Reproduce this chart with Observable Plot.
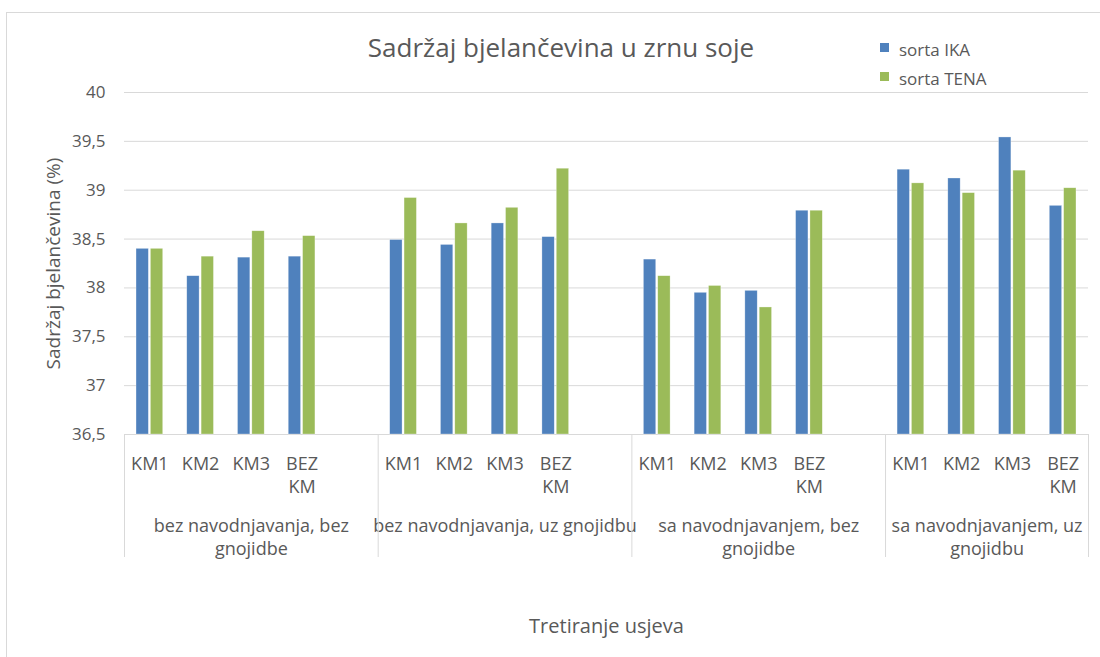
<!DOCTYPE html>
<html>
<head>
<meta charset="utf-8">
<script src="https://cdn.jsdelivr.net/npm/d3@7"></script>
<script src="https://cdn.jsdelivr.net/npm/@observablehq/plot@0.6"></script>
<style>
  html, body { margin: 0; padding: 0; background: #fff; }
  body { position: relative; width: 1100px; height: 657px; overflow: hidden; font-family: "Open Sans", sans-serif; color: #595959; }
  #frame { position: absolute; left: 6px; top: 12px; width: 1110px; height: 700px; border: 1px solid #d9d9d9; box-sizing: border-box; }
  #header { position: relative; height: 80px; }
  #title { position: absolute; left: 561px; top: 34px; transform: translateX(-50%); font-size: 26px; line-height: 1; white-space: nowrap; }
  #legend { position: absolute; left: 880px; top: 41px; }
  .li { position: relative; height: 29px; font-size: 17px; line-height: 1; white-space: nowrap; }
  .sw { position: absolute; left: 0; top: 2px; width: 9px; height: 9px; }
  .lt { position: absolute; left: 19px; top: 0; }
  #chart { position: relative; }
</style>
</head>
<body>
<div id="frame"></div>
<div id="header"><div id="title"></div><div id="legend"></div></div>
<div id="chart"></div>
<script>
const titleText = "Sadržaj bjelančevina u zrnu soje";
const yLabel = "Sadržaj bjelančevina (%)";
const xLabel = "Tretiranje usjeva";

const groups = [
  "bez navodnjavanja, bez\ngnojidbe",
  "bez navodnjavanja, uz gnojidbu",
  "sa navodnjavanjem, bez\ngnojidbe",
  "sa navodnjavanjem, uz\ngnojidbu"
];
const treatments = ["KM1", "KM2", "KM3", "BEZ\nKM"];
const seriesNames = ["sorta IKA", "sorta TENA"];
const seriesColors = ["#4F81BD", "#9BBB59"];

// values in order: group 1 (KM1..BEZ KM), group 2, group 3, group 4
const ika  = [38.40, 38.12, 38.31, 38.32,  38.49, 38.44, 38.66, 38.52,  38.29, 37.95, 37.97, 38.79,  39.21, 39.12, 39.54, 38.84];
const tena = [38.40, 38.32, 38.58, 38.53,  38.92, 38.66, 38.82, 39.22,  38.12, 38.02, 37.80, 38.79,  39.07, 38.97, 39.20, 39.02];
const yTicks = [36.5, 37, 37.5, 38, 38.5, 39, 39.5, 40];

// Build slots: each group has its treatments, plus an empty slot between groups
const slots = [];
const rows = [];
const groupRows = [];
const sepRows = [];
groups.forEach((g, gi) => {
  const gs = [];
  treatments.forEach((t, ti) => {
    const key = gi + "|" + ti;
    slots.push(key); gs.push(key);
    rows.push({slot: key, label: t, group: g, ika: ika[gi * 4 + ti], tena: tena[gi * 4 + ti]});
  });
  if (gi < groups.length - 1) { const b = gi + "|blank"; slots.push(b); gs.push(b); }
  const c = (gs.length - 1) / 2;
  groupRows.push({label: g, slot: gs[Math.floor(c)], shifted: c !== Math.floor(c)});
  sepRows.push({slot: gs[0]});
});

const W = 1100, H = 577, ML = 124, MR = 12, MT = 12, MB = 223;
const half = (W - ML - MR) / slots.length / 2;
const barW = 12.35, gap = 2;

// header
document.getElementById("title").textContent = titleText;
const legend = document.getElementById("legend");
seriesNames.forEach((s, i) => {
  const d = document.createElement("div"); d.className = "li";
  d.innerHTML = `<span class="sw" style="background:${seriesColors[i]}"></span><span class="lt">${s}</span>`;
  legend.appendChild(d);
});

const fmt = d => String(d).replace(".", ",");
const keys = ["ika", "tena"];
const lblFont = 18;

const marks = [
  Plot.gridY(yTicks.slice(1), {stroke: "#d9d9d9", strokeOpacity: 1, strokeWidth: 1}),
  Plot.ruleY([yTicks[0]], {stroke: "#d9d9d9", strokeWidth: 1.2}),
  Plot.axisY(yTicks, {tickSize: 0, tickPadding: 19, tickFormat: fmt, fontSize: 17, label: null}),
  // bars
  ...keys.map((k, i) => Plot.barY(rows, {
    x: "slot", y1: yTicks[0], y2: k, fill: seriesColors[i],
    stroke: "#ffffff", strokeOpacity: 0.5, strokeWidth: 0.6,
    insetLeft: i === 0 ? half - barW - gap / 2 : half + gap / 2,
    insetRight: i === 0 ? half + gap / 2 : half - barW - gap / 2
  })),
  // category labels
  Plot.text(rows, {x: "slot", y: yTicks[0], text: "label", textAnchor: "middle", lineAnchor: "top", dy: 19, lineHeight: 23 / lblFont, fontSize: lblFont}),
  // group labels (centred on the middle slot; groups with an even slot count sit half a slot to the right)
  Plot.text(groupRows.filter(d => !d.shifted), {x: "slot", y: yTicks[0], text: "label", textAnchor: "middle", lineAnchor: "top", dy: 81, lineHeight: 23 / lblFont, fontSize: lblFont}),
  Plot.text(groupRows.filter(d => d.shifted), {x: "slot", y: yTicks[0], text: "label", textAnchor: "middle", lineAnchor: "top", dy: 81, dx: half, lineHeight: 23 / lblFont, fontSize: lblFont}),
  // separators
  Plot.ruleX(sepRows, {x: "slot", y1: yTicks[0], y2: yTicks[0], dx: -half, insetBottom: -123, stroke: "#d9d9d9"}),
  Plot.ruleX([{slot: slots[slots.length - 1]}], {x: "slot", y1: yTicks[0], y2: yTicks[0], dx: half, insetBottom: -123, stroke: "#d9d9d9"}),
  // axis titles
  Plot.text([yLabel], {frameAnchor: "left", text: d => d, rotate: -90, textAnchor: "middle", dx: -71, fontSize: 19}),
  Plot.text([xLabel], {frameAnchor: "bottom", text: d => d, textAnchor: "middle", dy: 192, lineAnchor: "middle", fontSize: 20})
];

const chart = Plot.plot({
  width: W, height: H,
  marginLeft: ML, marginRight: MR, marginTop: MT, marginBottom: MB,
  style: {fontFamily: "'Open Sans', sans-serif", fontSize: "17px", color: "#595959", background: "transparent", overflow: "visible"},
  x: {type: "band", domain: slots, padding: 0, round: false, axis: null},
  y: {domain: [yTicks[0], yTicks[yTicks.length - 1]], axis: null},
  marks
});
document.getElementById("chart").appendChild(chart);
</script>
</body>
</html>
